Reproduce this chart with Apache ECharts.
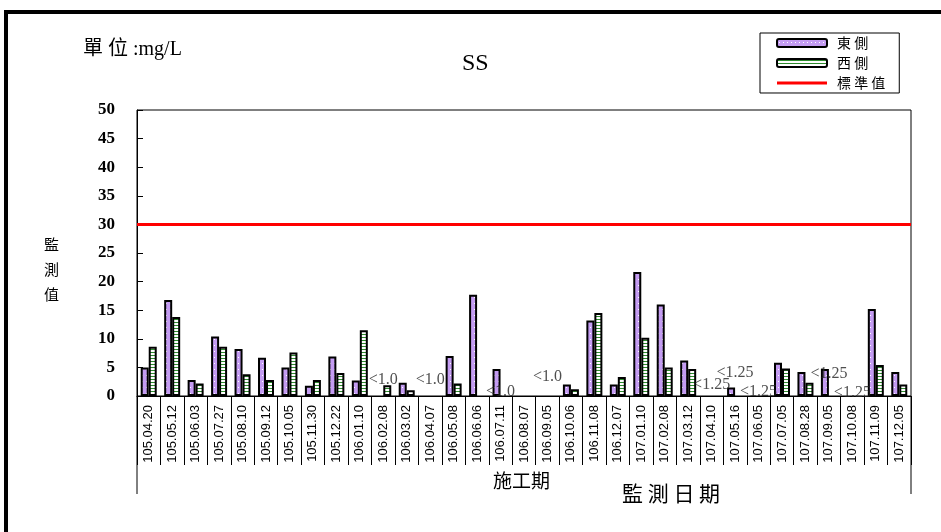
<!DOCTYPE html>
<html>
<head>
<meta charset="utf-8">
<script src="https://cdn.jsdelivr.net/npm/echarts@6/dist/echarts.min.js"></script>
<style>html,body{margin:0;padding:0;background:#fff;}#c{width:941px;height:532px;}</style>
</head>
<body>
<div id="c"></div>
<script>
const categories = ['105.04.20','105.05.12','105.06.03','105.07.27','105.08.10','105.09.12','105.10.05','105.11.30','105.12.22','106.01.10','106.02.08','106.03.02','106.04.07','106.05.08','106.06.06','106.07.11','106.08.07','106.09.05','106.10.06','106.11.08','106.12.07','107.01.10','107.02.08','107.03.12','107.04.10','107.05.16','107.06.05','107.07.05','107.08.28','107.09.05','107.10.08','107.11.09','107.12.05'];
const east = [5.0,16.8,2.8,10.4,8.2,6.7,5.0,1.8,6.9,2.7,null,2.3,null,7.0,17.7,4.7,null,null,2.0,13.2,2.0,21.7,16.0,6.2,null,1.5,null,5.8,4.2,4.7,null,15.2,4.2];
const west = [8.6,13.8,2.2,8.6,3.8,2.8,7.6,2.8,4.0,11.5,1.9,1.0,null,2.2,null,null,null,null,1.2,14.5,3.3,10.2,5.0,4.7,null,null,null,4.8,2.3,null,null,5.4,2.0];
const standard = 30;
const yTicks = [0,5,10,15,20,25,30,35,40,45,50];
const annCats = ['106.02.08','106.04.07','106.07.11','106.09.05','107.04.10','107.05.16','107.06.05','107.09.05','107.10.08'];
const annVals = [2.8,2.8,0.7,3.3,1.9,4.0,0.7,3.8,0.5];
const annTexts = ['<1.0','<1.0','<1.0','<1.0','<1.25','<1.25','<1.25','<1.25','<1.25'];

function makePattern(w, h, bg, draw) {
  const cv = document.createElement('canvas');
  cv.width = w; cv.height = h;
  const ctx = cv.getContext('2d');
  ctx.fillStyle = bg; ctx.fillRect(0, 0, w, h);
  draw(ctx);
  return { image: cv, repeat: 'repeat' };
}
const purplePat = makePattern(4, 6, '#c49cf2', ctx => { ctx.fillStyle = '#ffffff'; ctx.fillRect(2, 3, 1, 1); });
const greenPat = makePattern(4, 3, '#ffffff', ctx => { ctx.fillStyle = '#2e8b2e'; ctx.fillRect(0, 1, 4, 1); });

const chart = echarts.init(document.getElementById('c'));
const serif = '"Liberation Serif", "Times New Roman", serif';
const cjk = '"Noto Sans CJK TC", "Noto Sans CJK SC", sans-serif';

chart.setOption({
  animation: false,
  backgroundColor: '#ffffff',
  grid: { left: 137, top: 110, width: 774, height: 286, show: true, borderColor: '#000', borderWidth: 1, backgroundColor: 'transparent' },
  legend: {
    orient: 'vertical', left: 760, top: 33,
    itemWidth: 50, itemHeight: 8, itemGap: 6,
    padding: [3, 14, 3, 16],
    borderColor: '#000', borderWidth: 1,
    textStyle: { fontFamily: cjk, fontSize: 14, color: '#000', padding: [0, 0, 0, 5] },
    formatter: n => n.split('').join(' '),
    data: ['東側', '西側', { name: '標準值', icon: 'path://M0,0L50,0L50,3L0,3Z', itemStyle: { color: '#ff0000', borderWidth: 0 } }]
  },
  xAxis: {
    type: 'category', data: categories, boundaryGap: true,
    axisLine: { lineStyle: { color: '#000', width: 1 } },
    axisTick: { show: true, interval: 0, length: 69, lineStyle: { color: '#000' } },
    axisLabel: { interval: 0, rotate: 90, margin: 9, fontFamily: '"Liberation Sans", Arial, sans-serif', fontSize: 13, color: '#000' },
    splitLine: { show: false }
  },
  yAxis: {
    type: 'value', min: 0, max: 50, interval: 5,
    axisLine: { show: true, lineStyle: { color: '#000' } },
    axisTick: { show: true, inside: true, length: 6, lineStyle: { color: '#000' } },
    axisLabel: { margin: 22, fontFamily: serif, fontSize: 17, fontWeight: 'bold', color: '#000',
      formatter: v => yTicks.indexOf(v) >= 0 ? String(v) : '' },
    splitLine: { show: false }
  },
  graphic: [
    { type: 'rect', shape: { x: 6, y: 12, width: 1000, height: 600 }, style: { fill: 'none', stroke: '#000', lineWidth: 4 }, silent: true },
    { type: 'line', shape: { x1: 137, y1: 396, x2: 137, y2: 494 }, style: { stroke: '#000', lineWidth: 1 } },
    { type: 'line', shape: { x1: 911, y1: 396, x2: 911, y2: 494 }, style: { stroke: '#000', lineWidth: 1 } },
    { type: 'text', left: 83, top: 40, style: { text: '單 位 :mg/L', font: '20px ' + serif + ', ' + cjk, fill: '#000' } },
    { type: 'text', left: 462, top: 52, style: { text: 'SS', font: '24px ' + serif, fill: '#000' } },
    { type: 'text', left: 44, top: 232, style: { text: '監\n測\n值', font: '15px ' + cjk, lineHeight: 25, fill: '#000' } },
    { type: 'text', left: 493, top: 471, style: { text: '施工期', font: '19px ' + cjk, fill: '#000' } },
    { type: 'text', left: 622, top: 483, style: { text: '監 測 日 期', font: '21px ' + cjk, fill: '#000' } }
  ],
  series: [
    { name: '東側', type: 'bar', data: east, barWidth: 8, barGap: '0%',
      itemStyle: { color: purplePat, borderColor: '#000', borderWidth: 2 } },
    { name: '西側', type: 'bar', data: west, barWidth: 8, barGap: '0%',
      itemStyle: { color: greenPat, borderColor: '#000', borderWidth: 2 } },
    { name: '標準值', type: 'line', data: [], symbol: 'none', showSymbol: false,
      itemStyle: { color: '#ff0000' },
      lineStyle: { color: '#ff0000', width: 3 },
      markLine: { silent: true, symbol: 'none', label: { show: false },
        lineStyle: { color: '#ff0000', width: 3, type: 'solid' },
        data: [{ yAxis: standard }] } },
    { name: 'annot', type: 'scatter', symbolSize: 1, itemStyle: { color: 'rgba(0,0,0,0)' },
      data: annCats.map((c, i) => [c, annVals[i], annTexts[i]]),
      label: { show: true, position: 'inside', formatter: p => p.data[2],
        fontFamily: serif, fontSize: 16, color: '#222' },
      z: 5 }
  ]
});
</script>
</body>
</html>
